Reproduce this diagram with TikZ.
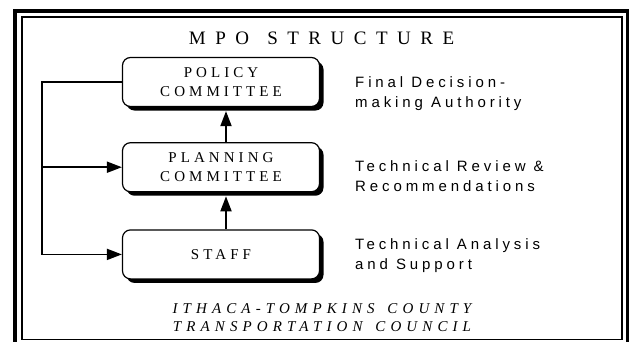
\documentclass[tikz,border=0pt]{standalone}
\usepackage{fontspec}
\setmainfont{Liberation Serif}
\setsansfont{Liberation Sans}
\newfontfamily\titlefont{Liberation Serif}[LetterSpace=50]
\newfontfamily\boxfont{Liberation Serif}[LetterSpace=27]
\newfontfamily\councilfont{Liberation Serif}[LetterSpace=34]
\newfontfamily\notefont{Liberation Sans}[LetterSpace=26]
\usetikzlibrary{positioning,shadows,arrows.meta}

\tikzset{
  stage/.style={draw, line width=1.2pt, fill=white, rounded corners=8pt,
    minimum width=197pt, minimum height=49pt, align=center,
    font=\boxfont\fontsize{15}{19}\selectfont,
    drop shadow={shadow xshift=4pt, shadow yshift=-4pt, fill=black, opacity=1}},
  note/.style={anchor=west, align=left, inner sep=0pt,
    font=\notefont\fontsize{15}{20}\selectfont},
  arr/.style={line width=1.8pt, -{Triangle[length=15pt,width=11pt]}}
}

\begin{document}
\begin{tikzpicture}[x=1pt,y=-1pt]
  \useasboundingbox (0,0) rectangle (631,341);
  % frame
  \draw[line width=3.5pt] (15,346) -- (15,11) -- (627.5,11) -- (627.5,346);
  \draw[line width=1.3pt] (22,17) rectangle (622,339.5);

  \node[font=\titlefont\fontsize{19}{22}\selectfont, anchor=base] (title) at (321.5,44) {MPO\hspace{4pt} STRUCTURE};

  % boxes
  \node[stage] (policy) at (221,82) {POLICY\\COMMITTEE};
  \node[stage, below=35pt of policy] (planning) {PLANNING\\COMMITTEE};
  \node[stage, below=37pt of planning] (staff) {STAFF};

  \draw[arr] ([xshift=5pt]staff.north) -- ([xshift=5pt,yshift=-4pt]planning.south);
  \draw[arr] ([xshift=5pt]planning.north) -- ([xshift=5pt,yshift=-4pt]policy.south);

  \draw[arr] (policy.west) -| ([xshift=-80pt]staff.west) -- (staff.west);
  \draw[arr] ([xshift=-80pt]planning.west) -- (planning.west);

  % roles
  \node[note] (decision) at (355,93.9) {Final Decision-\\making Authority};
  \node[note] (review) at (355,176.3) {Technical Review \&\\Recommendations};
  \node[note] (analysis) at (355,255.2) {Technical Analysis\\and Support};

  \node[font=\councilfont\itshape\fontsize{15}{18}\selectfont, align=center, inner sep=0pt]
    (council) at (322,318) {ITHACA-TOMPKINS\hspace{4pt} COUNTY\\TRANSPORTATION\hspace{4pt} COUNCIL};
\end{tikzpicture}
\end{document}
